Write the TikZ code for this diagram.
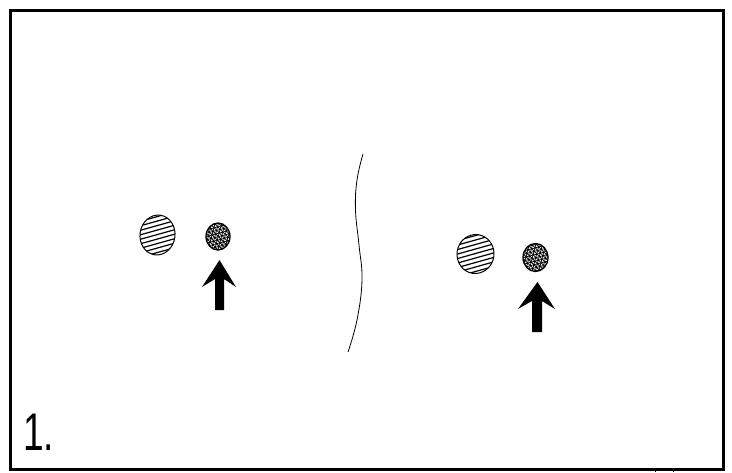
\documentclass[tikz,border=0pt]{standalone}
\usepackage{fontspec}
\newfontfamily\labelfont{Liberation Sans}
\tikzset{
  frame/.style={line width=3pt, line join=miter},
  outline/.style={line width=1pt},
  hatchline/.style={line width=1.2pt},
  meshline/.style={line width=0.75pt},
  arrowfill/.style={fill=black, draw=none},
  wave/.style={line width=0.8pt},
}
\newcommand\myhatchellipse[4]{% x, y, rx, ry
  \begin{scope}[shift={(#1,#2)}]
    \begin{scope}
      \clip[rotate=-8] (0,0) ellipse [x radius=#3, y radius=#4];
      \foreach \k in {-32,-27.5,...,32} \draw[hatchline] (-25,\k+7) -- (25,\k-7);
    \end{scope}
    \draw[outline, rotate=-8] (0,0) ellipse [x radius=#3, y radius=#4];
  \end{scope}}
\newcommand\mymeshcircle[4]{% x, y, rx, ry
  \begin{scope}[shift={(#1,#2)}]
    \begin{scope}
      \clip (0,0) ellipse [x radius=#3, y radius=#4];
      \foreach \a in {15,75,135}
        \foreach \k in {-19,-15.8,...,19}
          \draw[meshline, rotate=\a] (-20,\k) -- (20,\k);
    \end{scope}
    \draw[line width=1.3pt] (0,0) ellipse [x radius=#3, y radius=#4];
  \end{scope}}
\begin{document}
\begin{tikzpicture}[x=1pt, y=-1pt]
  \useasboundingbox (0,0) rectangle (732,472);
  \draw[frame] (10.5,10.5) rectangle (723.5,469.5);
  \draw[line width=0.6pt] (655,469.5) -- (655,472);
  \draw[line width=0.6pt] (673,469.5) -- (673,472);

  % left group
  \myhatchellipse{157.5}{235}{17.5}{20}
  \mymeshcircle{218}{236.5}{12}{13.5}
  \fill[arrowfill] (219.5,260) -- (236,287) -- (224,279) -- (224,310)
     -- (215,310) -- (215,279) -- (202,287) -- cycle;

  % right group
  \myhatchellipse{475.5}{254}{18.5}{19.5}
  \mymeshcircle{535.5}{257.5}{12.5}{14}
  \fill[arrowfill] (537.5,282) -- (555,309) -- (542,301) -- (542,332)
     -- (532,332) -- (532,301) -- (518,309) -- cycle;

  % wavy divider
  \draw[wave] plot[smooth, tension=0.7] coordinates
     {(363,154) (357,180) (355.5,210) (359,245) (362,280) (357,320) (348,352)};

  \node[anchor=base west, inner sep=0, font=\labelfont\fontsize{53}{53}\selectfont, xscale=0.7]
     (label) at (23,450) {1.};
\end{tikzpicture}
\end{document}
